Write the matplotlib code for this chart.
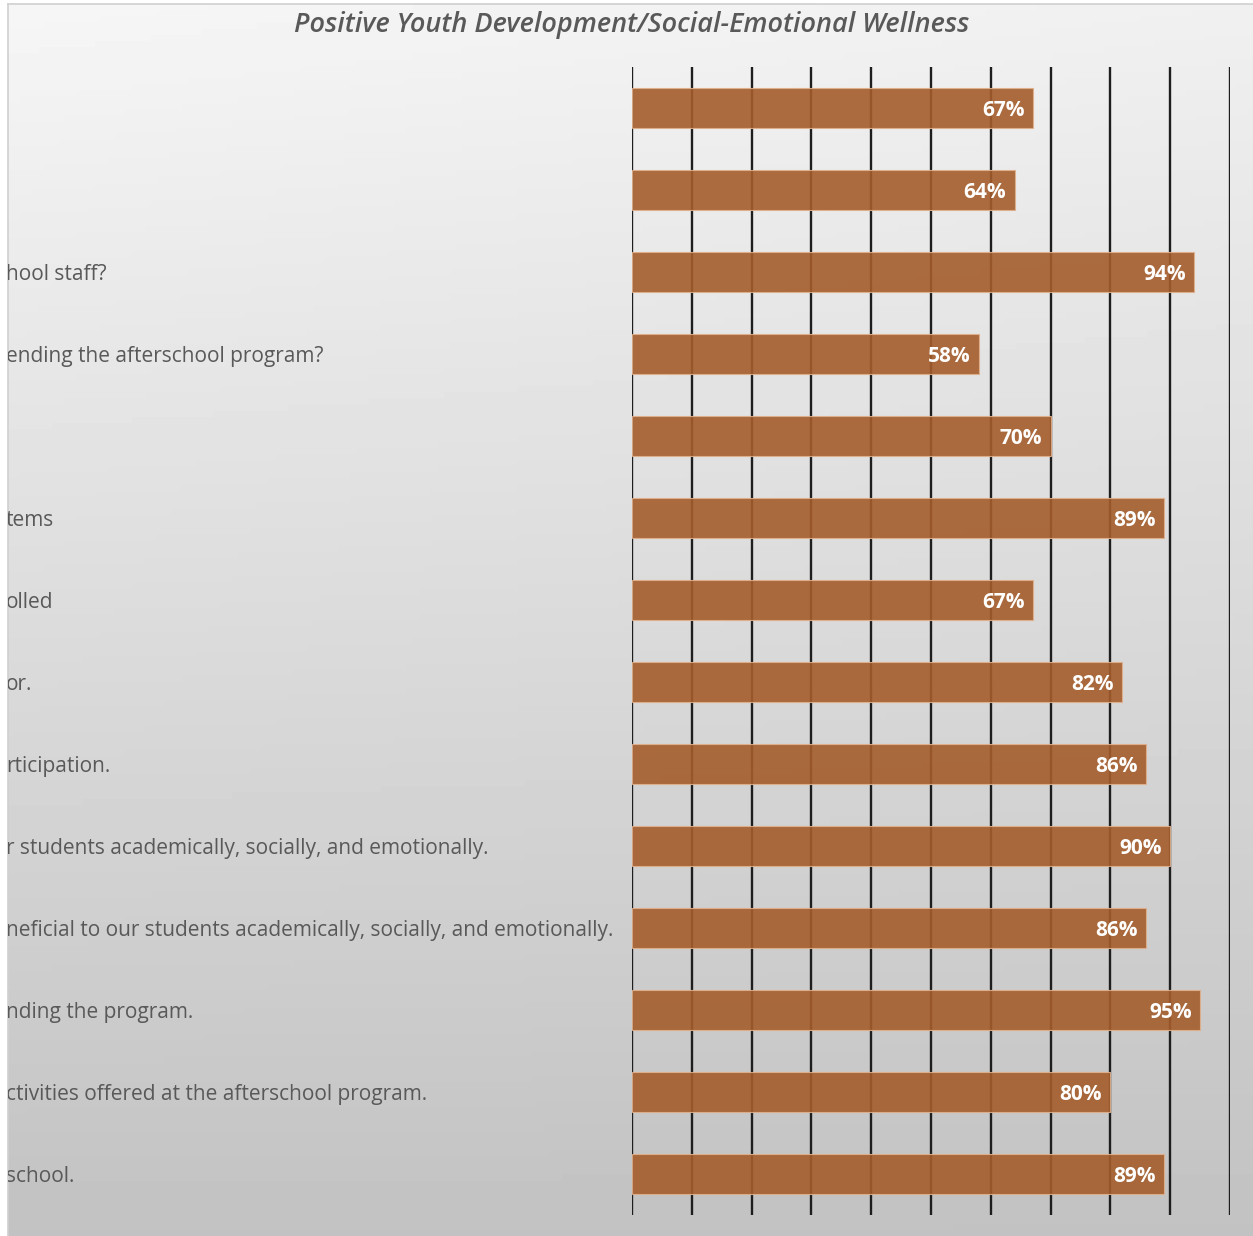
import matplotlib.pyplot as plt
import numpy as np

labels = ['', '', 'hool staff?', 'ending the afterschool program?', '', 'tems', 'olled', 'or.',
          'rticipation.', 'r students academically, socially, and emotionally.',
          'neficial to our students academically, socially, and emotionally.',
          'nding the program.', 'ctivities offered at the afterschool program.', 'school.']
values = [67, 64, 94, 58, 70, 89, 67, 82, 86, 90, 86, 95, 80, 89]
title = 'Positive Youth Development/Social-Emotional Wellness'

W, H = 1253, 1236
fig = plt.figure(figsize=(W / 100, H / 100), dpi=100)
fig.patch.set_facecolor('white')

# background panel with grey gradient
bg = fig.add_axes([8 / W, 0, (W - 8) / W, (H - 4) / H])
yy, xx = np.mgrid[0:1:200j, 0:1:200j]
grad = 246 - 52 * yy - 6 * xx * (1 - yy)
bg.imshow(grad, cmap='gray', vmin=0, vmax=255, aspect='auto', extent=[0, 1, 1, 0])
bg.set_xlim(0, 1)
bg.set_ylim(1, 0)
bg.set_xticks([])
bg.set_yticks([])
for s in bg.spines.values():
    s.set_color('#d0d0d0')
    s.set_linewidth(1.2)
bg.spines['right'].set_visible(False)
bg.spines['bottom'].set_visible(False)

ax = fig.add_axes([632 / W, (H - 1215) / H, 598 / W, 1148 / H])
ax.patch.set_alpha(0)
y = np.arange(len(values))
ax.barh(y, values, height=0.48, color='#A45D2B', alpha=0.9,
        edgecolor='#e0b08c', linewidth=0.8, zorder=3)
for xi in range(0, 101, 10):
    ax.axvline(xi, color='#1e1e1e', lw=1.7, zorder=1)
ax.set_xlim(0, 100)
ax.set_ylim(len(values) - 0.5, -0.5)
ax.set_xticks([])
ax.set_yticks([])
for s in ax.spines.values():
    s.set_visible(False)

for yi, v in zip(y, values):
    ax.text(v - 1.4, yi + 0.025, f'{v}%', ha='right', va='center', color='white',
            fontsize=15, fontweight='bold', family=['Open Sans', 'DejaVu Sans'], zorder=4)

# category labels, clipped at the panel's left edge
for yi, lab in zip(y, labels):
    t = ax.text(-(632 - 6) / 598, yi + 0.025, lab, ha='left', va='center', color='#595959',
                fontsize=15, family=['Open Sans', 'DejaVu Sans'],
                transform=ax.get_yaxis_transform())
    t.set_clip_box(bg.bbox)
    t.set_clip_on(True)

fig.text(632 / W, 1 - 25 / H, title, ha='center', va='center', color='#595959',
         fontsize=19.5, fontstyle='italic', fontweight='semibold',
         family=['Open Sans', 'DejaVu Sans'])

fig.savefig('out.png', dpi=100)
